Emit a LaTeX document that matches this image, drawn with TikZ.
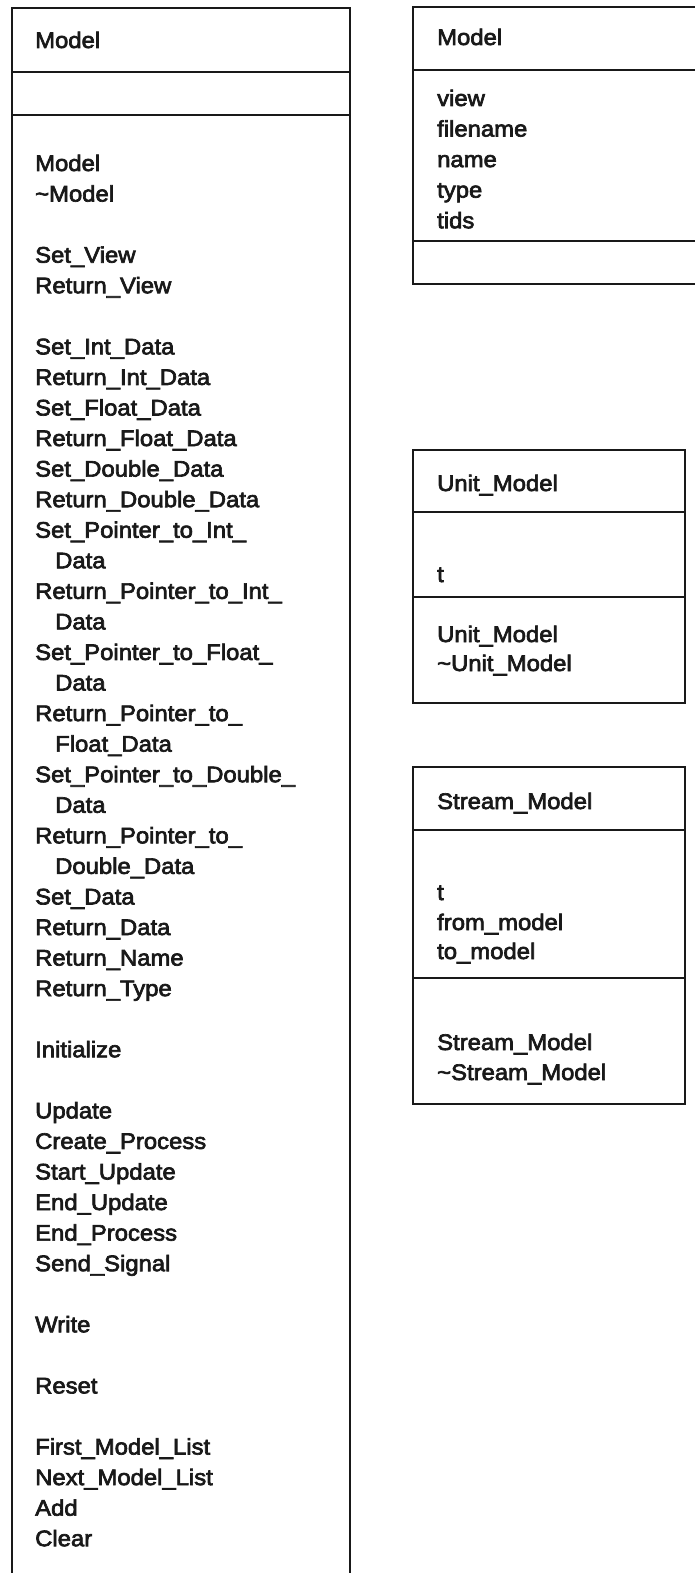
\documentclass[tikz,border=0pt]{standalone}
\usepackage{fontspec}
\setmainfont{Liberation Sans}[FakeStretch=1.06,FakeBold=3]
\begin{document}
\begin{tikzpicture}[x=1pt,y=-1pt,
  comp/.style={draw=black!90,line width=2.4pt,rectangle,anchor=north west,inner sep=0pt,outer sep=0pt},
  lbl/.style={anchor=base west,inner sep=0pt,text=black!90,font=\fontsize{22.5}{30}\selectfont}]
\useasboundingbox (0,0) rectangle (695,1573);
\fill[white] (0,0) rectangle (695,1573);
% ---------- left class: Model (operations) ----------
\node[comp,minimum width=338pt,minimum height=64pt] (lhead) at (12,8) {};
\node[comp,minimum width=338pt,minimum height=43pt] (lattr) at (12,72) {};
\node[comp,minimum width=338pt,minimum height=1490pt] (lops) at (12,115) {};
\node[lbl] (ltitle) at (35,48) {Model};
\foreach \i/\t/\dx in {0/Model/0, 1/\textasciitilde Model/0,
  3/Set\_View/0, 4/Return\_View/0,
  6/Set\_Int\_Data/0, 7/Return\_Int\_Data/0, 8/Set\_Float\_Data/0,
  9/Return\_Float\_Data/0, 10/Set\_Double\_Data/0, 11/Return\_Double\_Data/0,
  12/Set\_Pointer\_to\_Int\_/0, 13/Data/20,
  14/Return\_Pointer\_to\_Int\_/0, 15/Data/20,
  16/Set\_Pointer\_to\_Float\_/0, 17/Data/20,
  18/Return\_Pointer\_to\_/0, 19/Float\_Data/20,
  20/Set\_Pointer\_to\_Double\_/0, 21/Data/20,
  22/Return\_Pointer\_to\_/0, 23/Double\_Data/20,
  24/Set\_Data/0, 25/Return\_Data/0, 26/Return\_Name/0, 27/Return\_Type/0,
  29/Initialize/0,
  31/Update/0, 32/Create\_Process/0, 33/Start\_Update/0, 34/End\_Update/0,
  35/End\_Process/0, 36/Send\_Signal/0,
  38/Write/0,
  40/Reset/0,
  42/First\_Model\_List/0, 43/Next\_Model\_List/0, 44/Add/0, 45/Clear/0}
  \node[lbl] (lm\i) at ({35+\dx},{171+30.56*\i}) {\t};
% ---------- right class: Model (attributes) ----------
\node[comp,minimum width=300pt,minimum height=63pt] (rhead) at (413,7) {};
\node[comp,minimum width=300pt,minimum height=171pt] (rattr) at (413,70) {};
\node[comp,minimum width=300pt,minimum height=43pt] (rops) at (413,241) {};
\node[lbl] (rtitle) at (437,45) {Model};
\foreach \i/\t in {0/view, 1/filename, 2/name, 3/type, 4/tids}
  \node[lbl] (ra\i) at (437,{106+30.56*\i}) {\t};
% ---------- Unit_Model ----------
\node[comp,minimum width=272pt,minimum height=62pt] (uhead) at (413,450) {};
\node[comp,minimum width=272pt,minimum height=85pt] (uattr) at (413,512) {};
\node[comp,minimum width=272pt,minimum height=106pt] (uops) at (413,597) {};
\node[lbl] (utitle) at (437,491) {Unit\_Model};
\node[lbl] (ua0) at (437,582) {t};
\node[lbl] (uo0) at (437,642) {Unit\_Model};
\node[lbl] (uo1) at (437,671) {\textasciitilde Unit\_Model};
% ---------- Stream_Model ----------
\node[comp,minimum width=272pt,minimum height=63pt] (shead) at (413,767) {};
\node[comp,minimum width=272pt,minimum height=148pt] (sattr) at (413,830) {};
\node[comp,minimum width=272pt,minimum height=126pt] (sops) at (413,978) {};
\node[lbl] (stitle) at (437,809) {Stream\_Model};
\node[lbl] (sa0) at (437,900) {t};
\node[lbl] (sa1) at (437,930) {from\_model};
\node[lbl] (sa2) at (437,959) {to\_model};
\node[lbl] (so0) at (437,1050) {Stream\_Model};
\node[lbl] (so1) at (437,1080) {\textasciitilde Stream\_Model};
\end{tikzpicture}
\end{document}
